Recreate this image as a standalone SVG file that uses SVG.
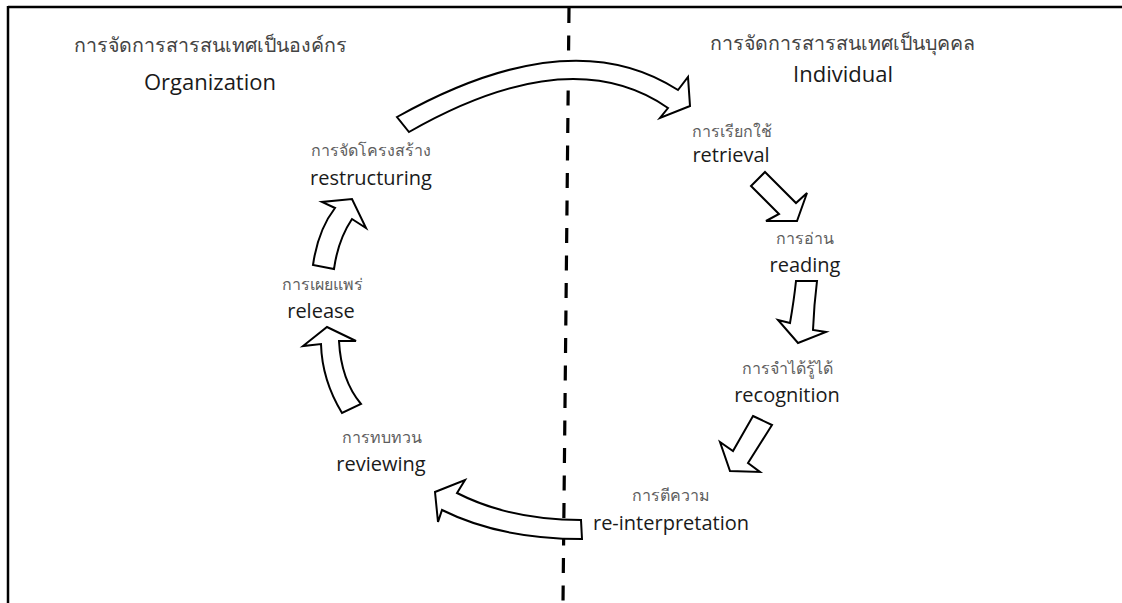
<svg xmlns="http://www.w3.org/2000/svg" width="1122" height="603" viewBox="0 0 1122 603">
<style>
.th{font-family:"Noto Sans","Open Sans","DejaVu Sans",sans-serif;fill:#5e5e5e;font-size:16px}
.thh{font-family:"Noto Sans","Open Sans","DejaVu Sans",sans-serif;fill:#444;font-size:19.6px}
.en{font-family:"Open Sans","Noto Sans",sans-serif;fill:#1a1a1a;font-size:20px}
.enh{font-family:"Open Sans","Noto Sans",sans-serif;fill:#1a1a1a;font-size:22px}
.arr{fill:#fff;stroke:#000;stroke-width:2;stroke-linejoin:miter}
</style>
<rect width="1122" height="603" fill="#fff"/>
<g id="frame" fill="none" stroke="#000" stroke-width="2.5">
<path d="M8,7 H1122 M8,6 V603"/>
</g>
<g id="divider">
<path d="M569,8 L563,603" stroke="#000" stroke-width="3.2" stroke-dasharray="15 12.5" fill="none"/>
</g>
<g id="headings">
<text class="thh" x="210" y="52" text-anchor="middle">การจัดการสารสนเทศเป็นองค์กร</text>
<text class="enh" x="210" y="90" text-anchor="middle">Organization</text>
<text class="thh" x="842" y="50" text-anchor="middle">การจัดการสารสนเทศเป็นบุคคล</text>
<text class="enh" x="843" y="82" text-anchor="middle">Individual</text>
</g>
<g id="node-retrieval">
<text class="th" x="732" y="137" text-anchor="middle">การเรียกใช้</text>
<text class="en" x="731" y="162" text-anchor="middle">retrieval</text>
</g>
<g id="node-reading">
<text class="th" x="805" y="244" text-anchor="middle">การอ่าน</text>
<text class="en" x="805" y="272" text-anchor="middle">reading</text>
</g>
<g id="node-recognition">
<text class="th" x="787" y="374" text-anchor="middle">การจำได้รู้ได้</text>
<text class="en" x="787" y="402" text-anchor="middle">recognition</text>
</g>
<g id="node-reinterpretation">
<text class="th" x="671" y="501" text-anchor="middle">การตีความ</text>
<text class="en" x="671" y="530" text-anchor="middle">re-interpretation</text>
</g>
<g id="node-reviewing">
<text class="th" x="382" y="443" text-anchor="middle">การทบทวน</text>
<text class="en" x="381" y="471" text-anchor="middle">reviewing</text>
</g>
<g id="node-release">
<text class="th" x="322" y="290" text-anchor="middle">การเผยแพร่</text>
<text class="en" x="321" y="318" text-anchor="middle">release</text>
</g>
<g id="node-restructuring">
<text class="th" x="371" y="156" text-anchor="middle">การจัดโครงสร้าง</text>
<text class="en" x="371" y="185" text-anchor="middle">restructuring</text>
</g>
<g id="connectors">
<path class="arr" d="M397,117 Q570,20 678,90 L688,77 L690,106 L660,118 L668,108 Q570,40 409,132 Z"/>
<path class="arr" d="M765,172 L796,203 L807,193 L797,221 L766,221 L779,214 L751,186 Z"/>
<path class="arr" d="M796,281 L817,281 Q814,305 813,330 L826,332 L798,343 L778,320 L790,323 Q794,300 796,281 Z"/>
<path class="arr" d="M753,416 L772,425 L748,463 L760,472 L730,471 L720,442 L733,451 Z"/>
<path class="arr" d="M581,520 Q510,520 457,493 L465,480 L435,492 L438,522 L442,510 Q500,539 582,539 Z"/>
<path class="arr" d="M342,413 Q322,380 321,344 L303,346 L327,327 L356,341 L339,341 Q341,380 361,404 Z"/>
<path class="arr" d="M313,265 Q318,230 335,208 L322,202 L352,199 L366,228 L352,219 Q338,240 334,269 Z"/>
</g>
</svg>
